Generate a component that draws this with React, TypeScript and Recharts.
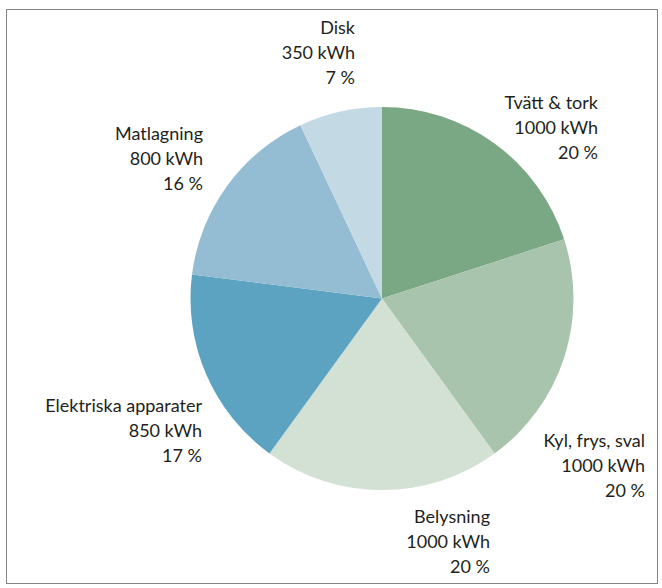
import { PieChart, Pie, Cell } from "recharts";

const categories = [
  "Tvätt & tork",
  "Kyl, frys, sval",
  "Belysning",
  "Elektriska apparater",
  "Matlagning",
  "Disk",
];
const kwh = [1000, 1000, 1000, 850, 800, 350];
const colors = ["#7aa784", "#a9c4ad", "#d3e0d4", "#5ba3c0", "#94bcd3", "#c3d9e4"];

// label block: right edge and middle line centre, relative to the pie centre
const labelPos: [number, number][] = [
  [216, -171],
  [263, 167],
  [108, 243],
  [-180, 132],
  [-179, -140],
  [-27, -246],
];

const data = categories.map((name, i) => ({ name, value: kwh[i] }));

const FONT = "Lato, 'Open Sans', sans-serif";

function renderLabel(props: any) {
  const { cx, cy, index, value, percent } = props;
  const [dx, dy] = labelPos[index];
  const x = cx + dx;
  const mid = cy + dy + 6;
  return (
    <text
      x={x}
      y={mid - 25}
      textAnchor="end"
      fill="#231f20"
      fontSize={18}
      fontFamily={FONT}
    >
      <tspan x={x} y={mid - 25}>
        {categories[index]}
      </tspan>
      <tspan x={x} y={mid}>
        {value} kWh
      </tspan>
      <tspan x={x} y={mid + 25}>
        {Math.round(percent * 100)} %
      </tspan>
    </text>
  );
}

export default function App() {
  return (
    <div
      style={{
        position: "absolute",
        left: 0,
        top: 0,
        width: 662,
        height: 588,
        background: "#fff",
      }}
    >
      <div
        style={{
          position: "absolute",
          left: 6,
          top: 9,
          width: 650,
          height: 573,
          border: "1.5px solid #858585",
        }}
      />
      <PieChart
        width={662}
        height={588}
        margin={{ top: 0, right: 0, bottom: 0, left: 0 }}
        style={{ position: "absolute", left: 0, top: 0 }}
      >
        <Pie
          data={data}
          dataKey="value"
          nameKey="name"
          cx={382}
          cy={298.5}
          outerRadius={191.5}
          startAngle={90}
          endAngle={-270}
          stroke="none"
          label={renderLabel}
          labelLine={false}
          isAnimationActive={false}
        >
          {data.map((d, i) => (
            <Cell key={d.name} fill={colors[i]} />
          ))}
        </Pie>
      </PieChart>
    </div>
  );
}
